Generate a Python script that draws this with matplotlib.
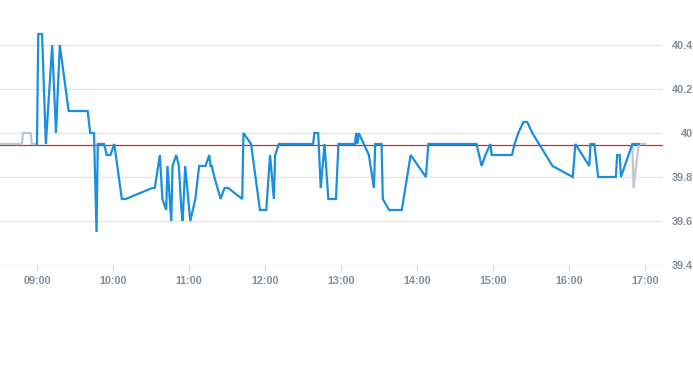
import matplotlib
matplotlib.use("Agg")
import matplotlib.pyplot as plt

# --- data -------------------------------------------------------------
price_times = ["09:00", "09:01", "09:04", "09:07", "09:12", "09:15", "09:18", "09:25",
               "09:40", "09:41", "09:42", "09:45", "09:47", "09:48", "09:53", "09:55",
               "09:58", "10:01", "10:07", "10:10", "10:31", "10:33", "10:37", "10:39",
               "10:42", "10:43", "10:46", "10:47", "10:50", "10:52", "10:54", "10:55",
               "10:57", "11:01", "11:05", "11:08", "11:13", "11:16", "11:17", "11:18",
               "11:20", "11:25", "11:28", "11:31", "11:42", "11:43", "11:49", "11:56",
               "12:01", "12:04", "12:07", "12:08", "12:11", "12:38", "12:39", "12:42",
               "12:44", "12:47", "12:50", "12:56", "12:58", "13:11", "13:12", "13:13",
               "13:14", "13:22", "13:26", "13:27", "13:32", "13:33", "13:38", "13:48",
               "13:55", "14:07", "14:09", "14:47", "14:51", "14:54", "14:58", "14:59",
               "15:15", "15:17", "15:20", "15:24", "15:27", "15:31", "15:47", "16:03",
               "16:05", "16:16", "16:17", "16:20", "16:23", "16:37", "16:38", "16:40",
               "16:41", "16:50", "16:55"]
price_values = [39.95, 40.45, 40.45, 39.95, 40.40, 40.00, 40.40, 40.10,
                40.10, 40.05, 40.00, 40.00, 39.55, 39.95, 39.95, 39.90,
                39.90, 39.95, 39.70, 39.70, 39.75, 39.75, 39.90, 39.70,
                39.65, 39.85, 39.60, 39.85, 39.90, 39.85, 39.65, 39.60,
                39.85, 39.60, 39.70, 39.85, 39.85, 39.90, 39.85, 39.85,
                39.80, 39.70, 39.75, 39.75, 39.70, 40.00, 39.95, 39.65,
                39.65, 39.90, 39.70, 39.90, 39.95, 39.95, 40.00, 40.00,
                39.75, 39.95, 39.70, 39.70, 39.95, 39.95, 40.00, 39.95,
                40.00, 39.90, 39.75, 39.95, 39.95, 39.70, 39.65, 39.65,
                39.90, 39.80, 39.95, 39.95, 39.85, 39.90, 39.95, 39.90,
                39.90, 39.95, 40.00, 40.05, 40.05, 40.00, 39.85, 39.80,
                39.95, 39.85, 39.95, 39.95, 39.80, 39.80, 39.90, 39.90,
                39.80, 39.95, 39.95]

pre_times = ["08:31", "08:48", "08:49", "08:55", "08:56", "09:00"]
pre_values = [39.95, 39.95, 40.00, 40.00, 39.95, 39.95]

post_times = ["16:50", "16:51", "16:55", "17:00"]
post_values = [39.95, 39.75, 39.95, 39.95]

ref_price = 39.945

tick_labels = ["09:00", "10:00", "11:00", "12:00", "13:00", "14:00", "15:00", "16:00", "17:00"]
y_ticks = [39.4, 39.6, 39.8, 40.0, 40.2, 40.4]
y_tick_labels = ["39.4", "39.6", "39.8", "40", "40.2", "40.4"]


def to_min(t):
    h, m = t.split(":")
    return int(h) * 60 + int(m)


# --- figure -----------------------------------------------------------
W, H, DPI = 693, 365, 100
fig = plt.figure(figsize=(W / DPI, H / DPI), dpi=DPI)
ax = fig.add_axes([0, 100 / H, 663 / W, 242 / H])

grid_c = "#e3e6ea"
text_c = "#858e99"

ax.axhline(ref_price, color="#cc2e26", lw=0.9, zorder=2)
ax.plot([to_min(t) for t in pre_times], pre_values, color="#bfc6cf", lw=1.6, zorder=3,
        solid_joinstyle="miter")
ax.plot([to_min(t) for t in post_times], post_values, color="#bfc6cf", lw=1.6, zorder=3,
        solid_joinstyle="miter")
ax.plot([to_min(t) for t in price_times], price_values, color="#1a8fde", lw=1.6, zorder=4,
        solid_joinstyle="miter")

x0 = to_min("09:00") - 29.2
x1 = to_min("09:00") + 494.2
ax.set_xlim(x0, x1)
ax.set_ylim(39.4, 40.5)

for s in ax.spines.values():
    s.set_visible(False)

ax.set_yticks(y_ticks)
ax.set_yticklabels(y_tick_labels)
ax.yaxis.tick_right()
ax.tick_params(axis="y", length=0, pad=21.6, labelsize=7.8, labelcolor=text_c)
for lab in ax.get_yticklabels():
    lab.set_horizontalalignment("right")
    lab.set_fontweight("bold")
    lab.set_family("Liberation Sans")
ax.grid(axis="y", color=grid_c, lw=0.9, zorder=0)

ax.set_xticks([to_min(t) for t in tick_labels])
ax.set_xticklabels(tick_labels)
ax.tick_params(axis="x", length=4, width=0.8, color="#d5dae0", pad=4,
               labelsize=7.8, labelcolor=text_c)
for lab in ax.get_xticklabels():
    lab.set_fontweight("bold")
    lab.set_family("Liberation Sans")

fig.savefig("out.png", dpi=DPI)
